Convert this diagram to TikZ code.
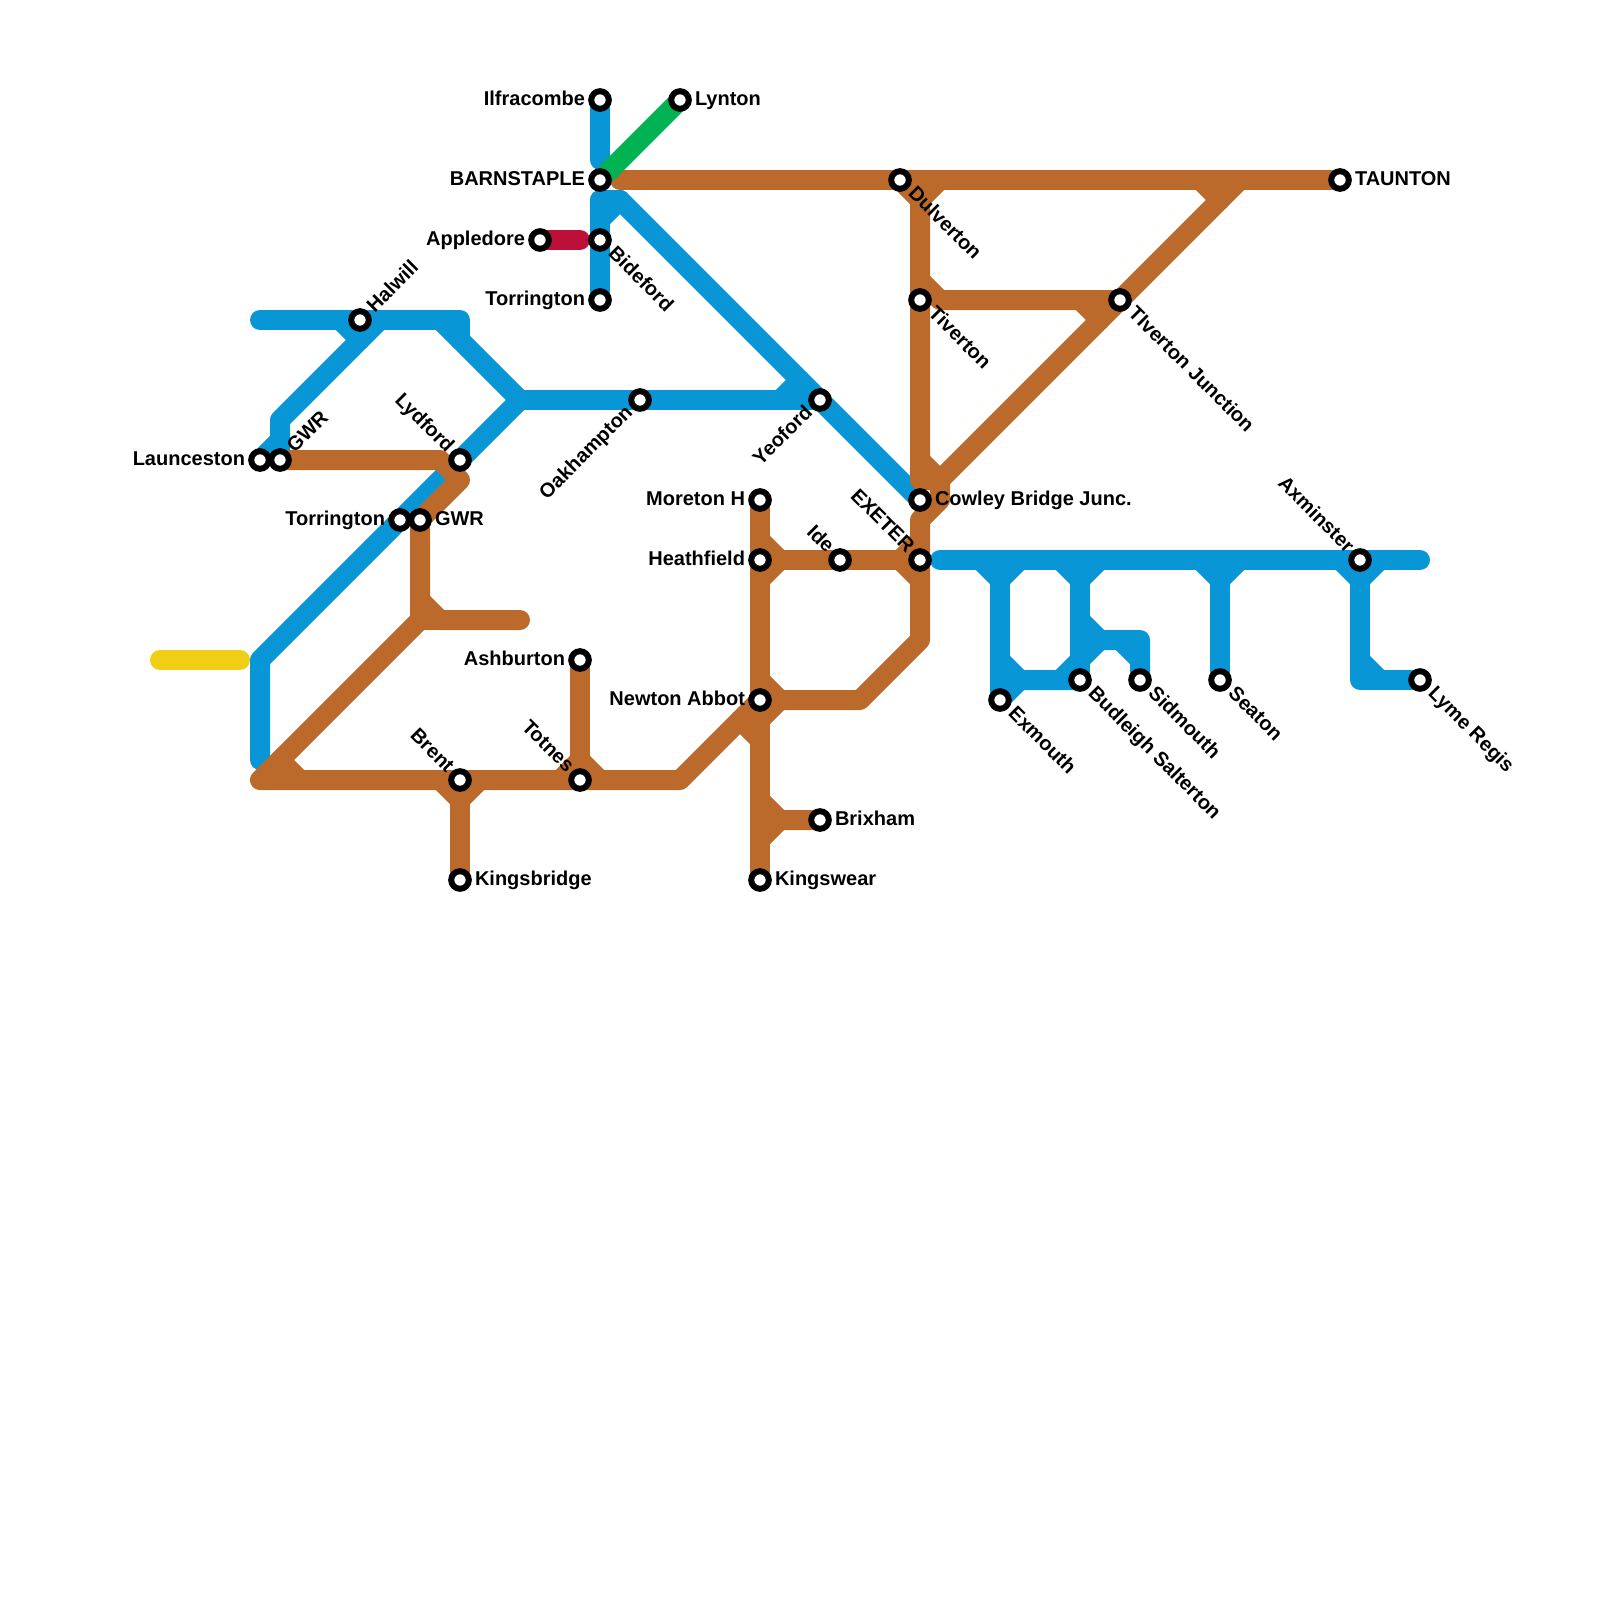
\documentclass[tikz,border=0pt]{standalone}
\usepackage{fontspec}
\setmainfont{Liberation Sans}
\pgfdeclarelayer{lines}
\pgfsetlayers{lines,main}
\definecolor{mblue}{HTML}{0896D7}
\definecolor{mbrown}{HTML}{BB6A2B}
\definecolor{mred}{HTML}{BD1038}
\definecolor{mgreen}{HTML}{00B251}
\definecolor{myellow}{HTML}{F0CE15}
\tikzset{
  route/.style={line width=20pt,line cap=round,line join=round},
  blueline/.style={route,draw=mblue},
  brownline/.style={route,draw=mbrown},
  redline/.style={route,draw=mred},
  greenline/.style={route,draw=mgreen},
  yellowline/.style={route,draw=myellow},
  stn/.style={circle,draw=black,fill=white,line width=6pt,outer sep=0pt,minimum size=17.6pt,inner sep=0pt},
  lab/.style={inner sep=0pt,outer sep=0pt,text=black,font=\fontsize{20pt}{24pt}\selectfont\bfseries},
  labR/.style={lab,anchor=base west,xshift=15pt,yshift=-5.4pt},
  labL/.style={lab,anchor=base east,xshift=-15pt,yshift=-5.4pt},
  labDR/.style={lab,anchor=base west,xshift=7.4pt,yshift=-14.6pt,rotate=-45},
  labUR/.style={lab,anchor=base west,xshift=14.8pt,yshift=6.4pt,rotate=45},
  labUL/.style={lab,anchor=base east,xshift=-13.8pt,yshift=6.4pt,rotate=-45},
  labDL/.style={lab,anchor=base east,xshift=-6.4pt,yshift=-13.6pt,rotate=45},
}
\begin{document}
\begin{tikzpicture}[x=1pt,y=-1pt]
\useasboundingbox (0,0) rectangle (1600,1600);
% joints
\foreach \x/\y in {260/320,460/320,460/340,440/320,520/400,780/400,800/380,260/660,260/760,380/320,280/420,280/440,340/320,360/340,
  600/160,600/200,620/200,600/220,940/560,1420/560,
  980/560,1000/580,1020/560,1000/660,1020/680,1060/680,1080/660,1060/560,1080/580,1100/560,1080/620,1100/640,1140/640,1120/640,1140/660,
  1200/560,1220/580,1240/560,1340/560,1360/580,1380/560,1360/680,1360/660,1380/680,
  580/240,160/660,240/660,620/180,440/460,460/480,420/620,420/600,440/620,520/620,260/780,280/760,300/780,680/780,440/780,460/800,480/780,
  560/780,580/760,600/780,760/720,740/720,760/740,780/700,760/680,860/700,920/640,920/520,940/500,940/480,1240/180,1200/180,1220/200,
  920/200,940/180,920/480,920/280,940/300,1080/300,1100/320,920/460,900/560,920/540,920/580,760/540,780/560,760/580,
  760/800,780/820,760/840}
  {\coordinate (j\x x\y) at (\x,\y);}
% stations
\node[stn] (launceston) at (260,460) {};
\node[labL] (tlaunceston) at (launceston) {Launceston};
\node[stn] (gwrN) at (280,460) {};
\node[labUR] (tgwrN) at (gwrN) {GWR};
\node[stn] (halwill) at (360,320) {};
\node[labUR] (thalwill) at (halwill) {Halwill};
\node[stn] (lydford) at (460,460) {};
\node[labUL] (tlydford) at (lydford) {Lydford};
\node[stn] (torringtonW) at (400,520) {};
\node[labL] (ttorringtonW) at (torringtonW) {Torrington};
\node[stn] (gwrS) at (420,520) {};
\node[labR] (tgwrS) at (gwrS) {GWR};
\node[stn] (ilfracombe) at (600,100) {};
\node[labL] (tilfracombe) at (ilfracombe) {Ilfracombe};
\node[stn] (lynton) at (680,100) {};
\node[labR] (tlynton) at (lynton) {Lynton};
\node[stn] (barnstaple) at (600,180) {};
\node[labL] (tbarnstaple) at (barnstaple) {BARNSTAPLE};
\node[stn] (appledore) at (540,240) {};
\node[labL] (tappledore) at (appledore) {Appledore};
\node[stn] (bideford) at (600,240) {};
\node[labDR] (tbideford) at (bideford) {Bideford};
\node[stn] (torringtonN) at (600,300) {};
\node[labL] (ttorringtonN) at (torringtonN) {Torrington};
\node[stn] (oakhampton) at (640,400) {};
\node[labDL] (toakhampton) at (oakhampton) {Oakhampton};
\node[stn] (yeoford) at (820,400) {};
\node[labDL] (tyeoford) at (yeoford) {Yeoford};
\node[stn] (dulverton) at (900,180) {};
\node[labDR] (tdulverton) at (dulverton) {Dulverton};
\node[stn] (taunton) at (1340,180) {};
\node[labR] (ttaunton) at (taunton) {TAUNTON};
\node[stn] (tiverton) at (920,300) {};
\node[labDR] (ttiverton) at (tiverton) {Tiverton};
\node[stn] (tivjunc) at (1120,300) {};
\node[labDR] (ttivjunc) at (tivjunc) {TIverton Junction};
\node[stn] (cowley) at (920,500) {};
\node[labR] (tcowley) at (cowley) {Cowley Bridge Junc.};
\node[stn] (exeter) at (920,560) {};
\node[labUL] (texeter) at (exeter) {EXETER};
\node[stn] (ide) at (840,560) {};
\node[labUL] (tide) at (ide) {Ide};
\node[stn] (moreton) at (760,500) {};
\node[labL] (tmoreton) at (moreton) {Moreton H};
\node[stn] (heathfield) at (760,560) {};
\node[labL] (theathfield) at (heathfield) {Heathfield};
\node[stn] (newton) at (760,700) {};
\node[labL] (tnewton) at (newton) {Newton Abbot};
\node[stn] (brixham) at (820,820) {};
\node[labR] (tbrixham) at (brixham) {Brixham};
\node[stn] (kingswear) at (760,880) {};
\node[labR] (tkingswear) at (kingswear) {Kingswear};
\node[stn] (ashburton) at (580,660) {};
\node[labL] (tashburton) at (ashburton) {Ashburton};
\node[stn] (totnes) at (580,780) {};
\node[labUL] (ttotnes) at (totnes) {Totnes};
\node[stn] (brent) at (460,780) {};
\node[labUL] (tbrent) at (brent) {Brent};
\node[stn] (kingsbridge) at (460,880) {};
\node[labR] (tkingsbridge) at (kingsbridge) {Kingsbridge};
\node[stn] (exmouth) at (1000,700) {};
\node[labDR] (texmouth) at (exmouth) {Exmouth};
\node[stn] (budleigh) at (1080,680) {};
\node[labDR] (tbudleigh) at (budleigh) {Budleigh Salterton};
\node[stn] (sidmouth) at (1140,680) {};
\node[labDR] (tsidmouth) at (sidmouth) {Sidmouth};
\node[stn] (seaton) at (1220,680) {};
\node[labDR] (tseaton) at (seaton) {Seaton};
\node[stn] (axminster) at (1360,560) {};
\node[labUL] (taxminster) at (axminster) {Axminster};
\node[stn] (lyme) at (1420,680) {};
\node[labDR] (tlyme) at (lyme) {Lyme Regis};
% lines
\begin{pgfonlayer}{lines}
\draw[blueline] (j260x320) -- (halwill.center) -- (j460x320) -- (j460x340);
\draw[blueline] (j440x320) -- (j520x400);
\draw[blueline] (j520x400) -- (oakhampton.center) -- (yeoford.center);
\draw[blueline] (j780x400) -- (j800x380);
\draw[blueline] (j520x400) -- (lydford.center) -- (torringtonW.center) -- (j260x660) -- (j260x760);
\draw[blueline] (j380x320) -- (j280x420) -- (gwrN.center);
\draw[blueline] (j340x320) -- (j360x340);
\draw[blueline] (launceston.center) -- (j280x440);
\draw[blueline] (ilfracombe.center) -- (j600x160);
\draw[blueline] (j600x200) -- (bideford.center) -- (torringtonN.center);
\draw[blueline] (j600x200) -- (j620x200) -- (yeoford.center) -- (cowley.center);
\draw[blueline] (j600x220) -- (j620x200);
\draw[blueline] (j940x560) -- (axminster.center) -- (j1420x560);
\draw[blueline] (j980x560) -- (j1000x580) -- (j1020x560);
\draw[blueline] (j1000x580) -- (exmouth.center);
\draw[blueline] (j1000x660) -- (j1020x680) -- (budleigh.center);
\draw[blueline] (j1020x680) -- (exmouth.center);
\draw[blueline] (j1060x560) -- (j1080x580) -- (j1100x560);
\draw[blueline] (j1080x580) -- (budleigh.center);
\draw[blueline] (j1060x680) -- (j1080x660) -- (j1100x640);
\draw[blueline] (j1080x620) -- (j1100x640) -- (j1140x640) -- (sidmouth.center);
\draw[blueline] (j1120x640) -- (j1140x660);
\draw[blueline] (j1200x560) -- (j1220x580) -- (j1240x560);
\draw[blueline] (j1220x580) -- (seaton.center);
\draw[blueline] (j1340x560) -- (j1360x580) -- (j1380x560);
\draw[blueline] (j1360x580) -- (j1360x680) -- (lyme.center);
\draw[blueline] (j1360x660) -- (j1380x680);
\draw[redline] (appledore.center) -- (j580x240);
\draw[yellowline] (j160x660) -- (j240x660);
\draw[brownline] (j620x180) -- (dulverton.center) -- (taunton.center);
\draw[brownline] (dulverton.center) -- (j920x200) -- (j940x180);
\draw[brownline] (j920x200) -- (tiverton.center) -- (j920x480) -- (j940x480) -- (j940x500) -- (j920x520) -- (exeter.center) -- (j920x640) -- (j860x700) -- (newton.center);
\draw[brownline] (j940x480) -- (tivjunc.center) -- (j1240x180);
\draw[brownline] (j1200x180) -- (j1220x200);
\draw[brownline] (j920x280) -- (j940x300) -- (tivjunc.center);
\draw[brownline] (j1080x300) -- (j1100x320);
\draw[brownline] (j920x460) -- (j940x480);
\draw[brownline] (gwrN.center) -- (j440x460) -- (j460x480) -- (gwrS.center) -- (j420x620) -- (j260x780) -- (brent.center) -- (totnes.center) -- (j680x780) -- (newton.center);
\draw[brownline] (j420x600) -- (j440x620) -- (j520x620);
\draw[brownline] (j420x620) -- (j440x620);
\draw[brownline] (j280x760) -- (j300x780);
\draw[brownline] (j440x780) -- (j460x800) -- (j480x780);
\draw[brownline] (j460x800) -- (kingsbridge.center);
\draw[brownline] (ashburton.center) -- (totnes.center);
\draw[brownline] (j560x780) -- (j580x760) -- (j600x780);
\draw[brownline] (moreton.center) -- (heathfield.center) -- (newton.center) -- (kingswear.center);
\draw[brownline] (heathfield.center) -- (ide.center) -- (exeter.center);
\draw[brownline] (j760x540) -- (j780x560) -- (j760x580);
\draw[brownline] (j900x560) -- (j920x540);
\draw[brownline] (j900x560) -- (j920x580);
\draw[brownline] (j760x680) -- (j780x700) -- (j760x720);
\draw[brownline] (j740x720) -- (j760x740);
\draw[brownline] (j760x800) -- (j780x820) -- (brixham.center);
\draw[brownline] (j780x820) -- (j760x840);
\draw[greenline] (barnstaple.center) -- (lynton.center);
\end{pgfonlayer}
\end{tikzpicture}
\end{document}
